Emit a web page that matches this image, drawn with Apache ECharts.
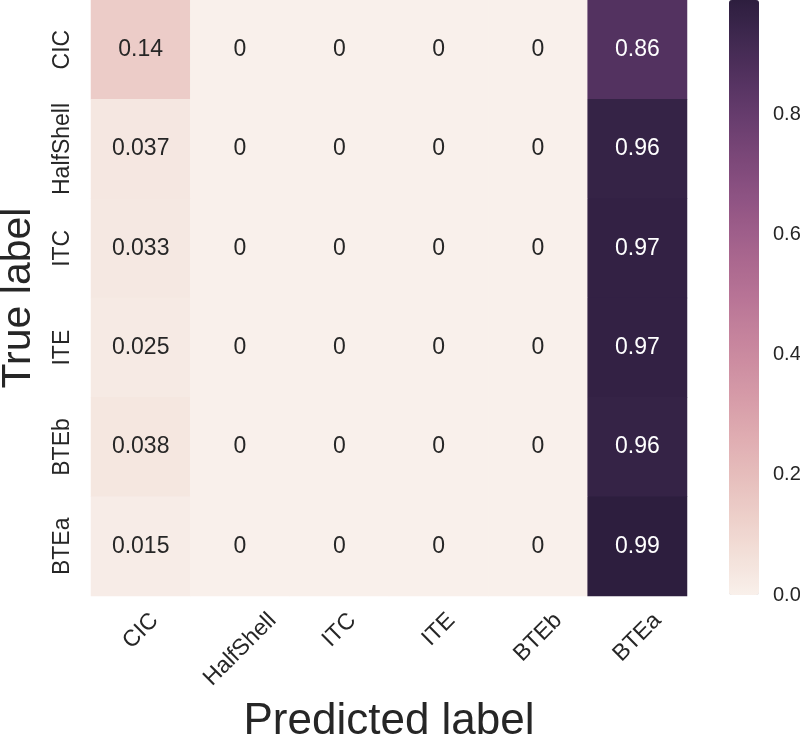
<!DOCTYPE html>
<html>
<head>
<meta charset="utf-8">
<script src="https://cdn.jsdelivr.net/npm/echarts@6/dist/echarts.min.js"></script>
<style>
html,body{margin:0;padding:0;background:#fff;}
#chart{width:800px;height:738px;}
</style>
</head>
<body>
<div id="chart"></div>
<script>
// ---- data ----
const predictedLabels = ['CIC', 'HalfShell', 'ITC', 'ITE', 'BTEb', 'BTEa'];
const trueLabels = ['CIC', 'HalfShell', 'ITC', 'ITE', 'BTEb', 'BTEa'];
const rowCIC       = [0.14,  0, 0, 0, 0, 0.86];
const rowHalfShell = [0.037, 0, 0, 0, 0, 0.96];
const rowITC       = [0.033, 0, 0, 0, 0, 0.97];
const rowITE       = [0.025, 0, 0, 0, 0, 0.97];
const rowBTEb      = [0.038, 0, 0, 0, 0, 0.96];
const rowBTEa      = [0.015, 0, 0, 0, 0, 0.99];
const matrix = [rowCIC, rowHalfShell, rowITC, rowITE, rowBTEb, rowBTEa];
const colorbarTicks = [0.0, 0.2, 0.4, 0.6, 0.8];

// ---- colormap: seaborn cubehelix_palette(light=.95, as_cmap=True) ----
function cubehelix(x) {
  const a = 0.8 * x * (1 - x) / 2;
  const phi = 2 * Math.PI * (0.4 * x);
  const c = Math.cos(phi), s = Math.sin(phi);
  const clip = v => Math.max(0, Math.min(1, v));
  const r = clip(x + a * (-0.14861 * c + 1.78277 * s));
  const g = clip(x + a * (-0.29227 * c - 0.90649 * s));
  const b = clip(x + a * (1.97294 * c));
  const h = v => Math.round(v * 255).toString(16).padStart(2, '0');
  return '#' + h(r) + h(g) + h(b);
}
const light = 0.95, dark = 0.15;
const stops = [];
for (let i = 0; i <= 40; i++) {
  const t = i / 40;
  stops.push(cubehelix(light + (dark - light) * t));
}

const vmax = Math.max(...matrix.flat());
const FONT = "'Liberation Sans', Arial, Helvetica, sans-serif";
const TXT = '#262626';

// heatmap data
const data = [];
matrix.forEach((row, yi) => {
  row.forEach((v, xi) => {
    data.push({
      value: [xi, yi, v],
      label: { color: v / vmax > 0.5 ? '#ffffff' : TXT }
    });
  });
});

// measure label widths for matplotlib-like centered rotated labels
const cv = document.createElement('canvas').getContext('2d');
const tickFontSize = 23;
cv.font = tickFontSize + 'px ' + FONT;
const xData = predictedLabels.map(name => {
  const w = cv.measureText(name).width;
  return {
    value: name,
    textStyle: {
      align: 'center',
      verticalAlign: 'top',
      lineHeight: 0.5 * w,
      fontSize: tickFontSize,
      color: TXT,
      fontFamily: FONT,
      padding: [0, 0.5 * w, 0, 0]
    }
  };
});

const chart = echarts.init(document.getElementById('chart'), null, { renderer: 'canvas' });
chart.setOption({
  animation: false,
  backgroundColor: '#ffffff',
  textStyle: { fontFamily: FONT },
  grid: [
    { left: 91, top: 0, width: 596, height: 596, outerBoundsMode: 'none', containLabel: false },
    { left: 729, top: 0, width: 30, height: 595, outerBoundsMode: 'none', containLabel: false }
  ],
  xAxis: [
    {
      gridIndex: 0,
      type: 'category',
      data: xData,
      position: 'bottom',
      axisLine: { show: false },
      axisTick: { show: false },
      splitLine: { show: false },
      axisLabel: {
        interval: 0,
        rotate: 45,
        align: 'center',
        verticalAlign: 'top',
        margin: 21,
        fontSize: tickFontSize,
        color: TXT,
        fontFamily: FONT
      },
      name: 'Predicted label',
      nameLocation: 'middle',
      nameGap: 104,
      nameMoveOverlap: false,
      nameTextStyle: { fontSize: 44, color: TXT, fontFamily: FONT, verticalAlign: 'top' }
    },
    { gridIndex: 1, type: 'value', show: false, min: 0, max: 1 }
  ],
  yAxis: [
    {
      gridIndex: 0,
      type: 'category',
      data: trueLabels,
      inverse: true,
      axisLine: { show: false },
      axisTick: { show: false },
      splitLine: { show: false },
      axisLabel: {
        interval: 0,
        rotate: 90,
        align: 'center',
        verticalAlign: 'bottom',
        margin: 17,
        fontSize: tickFontSize,
        color: TXT,
        fontFamily: FONT
      },
      name: 'True label',
      nameLocation: 'middle',
      nameRotate: 90,
      nameGap: 52,
      nameMoveOverlap: false,
      nameTextStyle: { fontSize: 41, color: TXT, fontFamily: FONT }
    },
    {
      gridIndex: 1,
      type: 'value',
      position: 'right',
      min: 0,
      max: vmax,
      interval: 0.2,
      axisLine: { show: false },
      axisTick: { show: false },
      splitLine: { show: false },
      axisLabel: {
        margin: 14,
        fontSize: 20,
        color: TXT,
        fontFamily: FONT,
        showMaxLabel: false,
        showMinLabel: true,
        formatter: v => colorbarTicks.some(t => Math.abs(t - v) < 1e-9) ? v.toFixed(1) : ''
      }
    }
  ],
  visualMap: {
    type: 'continuous',
    seriesIndex: 0,
    min: 0,
    max: vmax,
    calculable: false,
    orient: 'vertical',
    left: 729,
    top: 0,
    padding: 0,
    itemWidth: 30,
    itemHeight: 595,
    text: null,
    showLabel: false,
    inRange: { color: stops }
  },
  series: [
    {
      type: 'heatmap',
      xAxisIndex: 0,
      yAxisIndex: 0,
      data: data,
      itemStyle: { borderWidth: 0 },
      emphasis: { disabled: true },
      label: {
        show: true,
        fontSize: 23,
        fontFamily: FONT,
        formatter: p => String(p.value[2])
      }
    },
    {
      type: 'scatter',
      xAxisIndex: 1,
      yAxisIndex: 1,
      data: [],
      silent: true
    }
  ]
});
</script>
</body>
</html>
